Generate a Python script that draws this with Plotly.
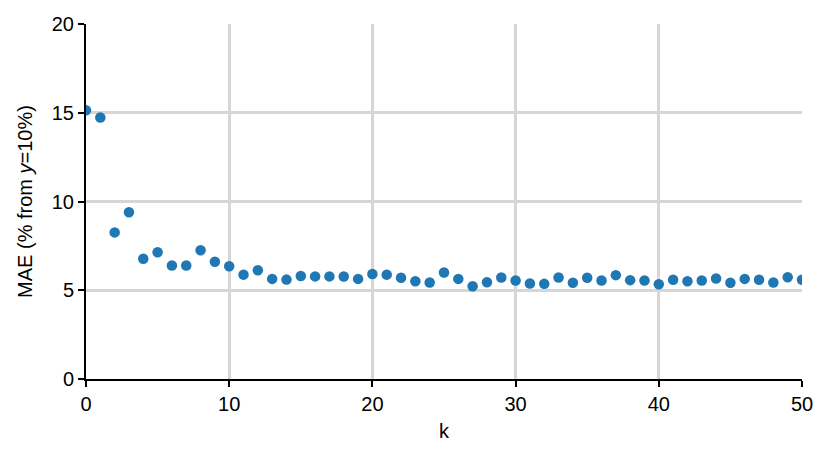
import plotly.graph_objects as go

k_values = list(range(0, 51))
mae_values = [
    15.14, 14.73, 8.26, 9.39, 6.77, 7.14, 6.39, 6.39, 7.25, 6.61,
    6.35, 5.88, 6.13, 5.64, 5.60, 5.80, 5.78, 5.78, 5.77, 5.64,
    5.92, 5.88, 5.70, 5.51, 5.44, 6.00, 5.64, 5.23, 5.45, 5.72,
    5.55, 5.38, 5.36, 5.72, 5.42, 5.70, 5.55, 5.85, 5.57, 5.55,
    5.34, 5.59, 5.51, 5.55, 5.66, 5.42, 5.64, 5.59, 5.44, 5.73,
    5.59,
]

fig = go.Figure()
fig.add_trace(go.Scatter(
    x=k_values, y=mae_values, mode="markers",
    marker=dict(color="#1f77b4", size=10.5),
    cliponaxis=True,
    showlegend=False,
))

axis_style = dict(
    showgrid=True, gridcolor="#d6d6d6", gridwidth=2.5,
    showline=True, linecolor="black", linewidth=2,
    ticks="outside", ticklen=6, tickcolor="black", tickwidth=1.5,
    zeroline=False, tickfont=dict(size=20, color="black"),
    automargin=False,
)

# the page body has an 8px margin, so margins are shifted to compensate
fig.update_layout(
    width=830, height=457,
    margin=dict(l=78, r=36, t=16, b=86),
    plot_bgcolor="white", paper_bgcolor="white",
    font=dict(family="Liberation Sans, Arial, sans-serif", size=20, color="black"),
    xaxis=dict(range=[0, 50], dtick=10,
               title=dict(text="k", font=dict(size=20), standoff=10), **axis_style),
    yaxis=dict(range=[0, 20], dtick=5,
               title=dict(text="MAE (% from <i>y</i>=10%)", font=dict(size=20), standoff=14),
               **axis_style),
)

fig.write_html("out.html")
